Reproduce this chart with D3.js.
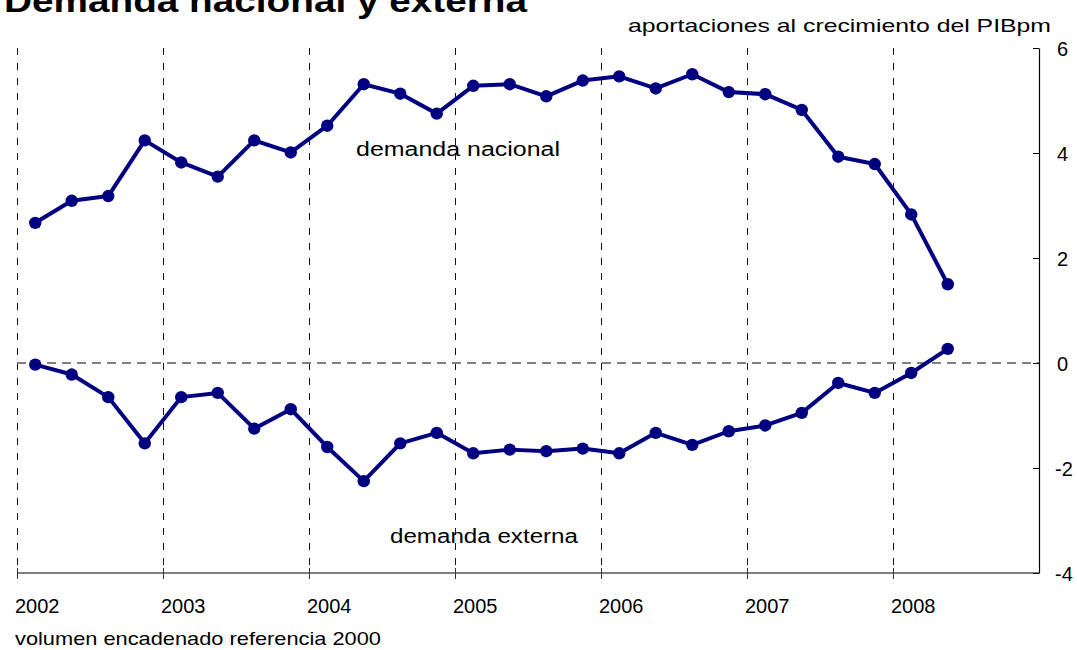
<!DOCTYPE html>
<html>
<head>
<meta charset="utf-8">
<script src="https://cdn.jsdelivr.net/npm/d3@7"></script>
<style>
  html, body { margin: 0; padding: 0; background: #fff; }
  svg { display: block; font-family: "Liberation Sans", Arial, sans-serif; }
</style>
</head>
<body>
<svg id="chart" width="1077" height="650"></svg>
<script>
// ---- data ----
const years = ["2002", "2003", "2004", "2005", "2006", "2007", "2008"];
const quarters = years.flatMap(y => ["T1", "T2", "T3", "T4"].map(q => y + q));
const demandaNacional = [2.67, 3.09, 3.18, 4.24, 3.82, 3.55, 4.24, 4.01, 4.52, 5.31, 5.13, 4.75, 5.28, 5.31,
                         5.08, 5.38, 5.46, 5.23, 5.50, 5.16, 5.12, 4.82, 3.93, 3.79, 2.83, 1.50];
const demandaExterna = [-0.03, -0.22, -0.65, -1.53, -0.65, -0.57, -1.25, -0.88, -1.60, -2.25, -1.53, -1.33, -1.72, -1.65,
                        -1.68, -1.63, -1.72, -1.33, -1.56, -1.30, -1.19, -0.95, -0.38, -0.57, -0.19, 0.27];
const yTicks = [6, 4, 2, 0, -2, -4];
const titleText = "Demanda nacional y externa";
const subtitleText = "aportaciones al crecimiento del PIBpm";
const footerText = "volumen encadenado referencia 2000";
const labelNacional = "demanda nacional";
const labelExterna = "demanda externa";

// ---- layout ----
const svg = d3.select("#chart");
const pLeft = 17, pRight = 1039, pTop = 48, pBottom = 573;
const navy = "#000080";

const x = d3.scaleBand().domain(quarters).range([pLeft, pRight]).padding(0);
const y = d3.scaleLinear().domain([-4, 6]).range([pBottom, pTop]);
const cx = i => x(quarters[i]) + x.bandwidth() / 2;

// vertical dashed gridlines at year boundaries
const gridX = years.map(yr => x(yr + "T1"));
svg.append("g").selectAll("line").data(gridX).join("line")
  .attr("x1", d => Math.round(d) + 0.5).attr("x2", d => Math.round(d) + 0.5)
  .attr("y1", pTop).attr("y2", pBottom)
  .attr("stroke", "#111").attr("stroke-width", 1)
  .attr("stroke-dasharray", "7,8");

// zero line
svg.append("line")
  .attr("x1", pLeft).attr("x2", pRight)
  .attr("y1", y(0)).attr("y2", y(0))
  .attr("stroke", "#7f7f7f").attr("stroke-width", 1.8)
  .attr("stroke-dasharray", "9,6");

// bottom axis
const gx = svg.append("g").attr("transform", `translate(0,${pBottom})`);
gx.append("line").attr("x1", pLeft).attr("x2", pRight).attr("y1", 0).attr("y2", 0)
  .attr("stroke", "#555").attr("stroke-width", 1.5);
gx.selectAll("line.tick").data(gridX).join("line").attr("class", "tick")
  .attr("x1", d => Math.round(d) + 0.5).attr("x2", d => Math.round(d) + 0.5).attr("y1", -5).attr("y2", 6)
  .attr("stroke", "#333").attr("stroke-width", 1);
gx.selectAll("text").data(years).join("text")
  .attr("x", d => x(d + "T1") + x.bandwidth() / 2 + 2)
  .attr("y", 40)
  .attr("text-anchor", "middle")
  .attr("font-size", 20)
  .attr("fill", "#000")
  .text(d => d);

// right axis
const yAxis = d3.axisRight(y).tickValues(yTicks).tickSize(0).tickPadding(0);
const gy = svg.append("g").attr("transform", `translate(${pRight},0)`).call(yAxis);
gy.select(".domain").attr("stroke", "#000").attr("stroke-width", 1.2);
gy.selectAll(".tick line").attr("x2", -6).attr("stroke", "#000").attr("stroke-width", 1);
gy.selectAll(".tick text")
  .attr("dy", "0.35em")
  .attr("font-size", 20).attr("font-family", "Liberation Sans, Arial, sans-serif")
  .attr("fill", "#000")
  .text(d => d < 0 ? "-" + Math.abs(d) : String(d))
  .attr("x", d => d < 0 ? 16 : 18);

// lines
const line = d3.line().x((d, i) => cx(i)).y(d => y(d));
[demandaNacional, demandaExterna].forEach(series => {
  svg.append("path").datum(series)
    .attr("d", line).attr("fill", "none")
    .attr("stroke", navy).attr("stroke-width", 4).attr("stroke-linejoin", "round");
  svg.append("g").selectAll("circle").data(series).join("circle")
    .attr("cx", (d, i) => cx(i)).attr("cy", d => y(d)).attr("r", 6.2)
    .attr("fill", navy);
});

// texts
svg.append("text").attr("x", 4).attr("y", 12)
  .attr("font-size", 32).attr("font-weight", "bold").attr("fill", "#000")
  .attr("textLength", 523).attr("lengthAdjust", "spacingAndGlyphs")
  .text(titleText);
svg.append("text").attr("x", 628).attr("y", 32)
  .attr("font-size", 19).attr("fill", "#000")
  .attr("textLength", 423).attr("lengthAdjust", "spacingAndGlyphs")
  .text(subtitleText);
svg.append("text").attr("x", 356).attr("y", 156)
  .attr("font-size", 20).attr("fill", "#000")
  .attr("textLength", 204).attr("lengthAdjust", "spacingAndGlyphs")
  .text(labelNacional);
svg.append("text").attr("x", 390).attr("y", 543)
  .attr("font-size", 20).attr("fill", "#000")
  .attr("textLength", 188).attr("lengthAdjust", "spacingAndGlyphs")
  .text(labelExterna);
svg.append("text").attr("x", 15).attr("y", 645)
  .attr("font-size", 19).attr("fill", "#000")
  .attr("textLength", 366).attr("lengthAdjust", "spacingAndGlyphs")
  .text(footerText);
</script>
</body>
</html>
